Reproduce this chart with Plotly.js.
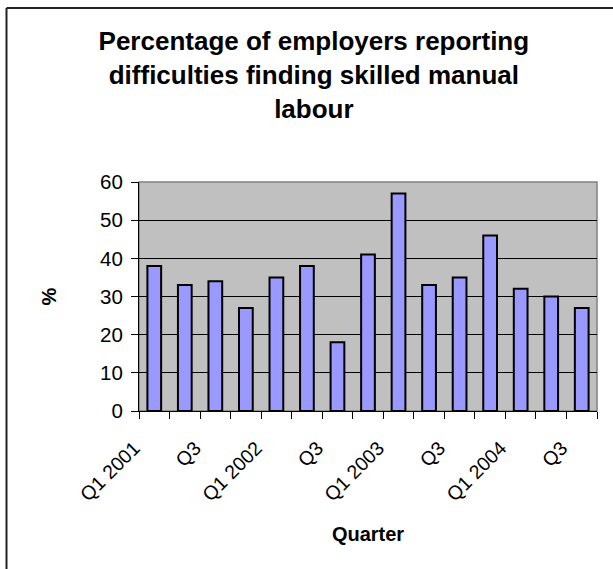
<!DOCTYPE html>
<html>
<head>
<meta charset="utf-8">
<script src="https://cdn.plot.ly/plotly-3.0.1.min.js"></script>
<style>html,body{margin:0;padding:0;background:#fff;}#chart{width:613px;height:569px;}</style>
</head>
<body>
<div id="chart"></div>
<script>
var categories = ["Q1 2001","Q2 2001","Q3 2001","Q4 2001","Q1 2002","Q2 2002","Q3 2002","Q4 2002","Q1 2003","Q2 2003","Q3 2003","Q4 2003","Q1 2004","Q2 2004","Q3 2004"];
var tickLabels = ["Q1 2001","","Q3","","Q1 2002","","Q3","","Q1 2003","","Q3","","Q1 2004","","Q3"];
var values = [38,33,34,27,35,38,18,41,57,33,35,46,32,30,27];
var yTicks = [0,10,20,30,40,50,60];

var W = 613, H = 569;
var L = 139, R = 16, T = 182, B = 158;
var pw = W - L - R, ph = H - T - B;
function px2x(p){ return (p - L) / pw; }
function py2y(p){ return (H - B - p) / ph; }

var font = "Liberation Sans, Arial, sans-serif";

var trace = {
  type: 'bar',
  x: categories,
  y: values,
  width: 0.45,
  marker: {color: '#9999ff', line: {color: '#000000', width: 2}},
  hoverinfo: 'x+y'
};

var layout = {
  width: W, height: H,
  margin: {l: L, r: R, t: T, b: B, pad: 0},
  paper_bgcolor: '#ffffff',
  plot_bgcolor: '#c0c0c0',
  font: {family: font, color: '#000', size: 17},
  showlegend: false,
  title: {
    text: 'Percentage of employers reporting<br>difficulties finding skilled manual<br>labour',
    font: {family: font, size: 26, color: '#000', weight: 'bold'},
    x: 0.512, xref: 'container', xanchor: 'center',
    y: 1 - 50/H, yref: 'container', yanchor: 'top'
  },
  xaxis: {
    type: 'category',
    range: [-0.5, 14.5],
    tickmode: 'array',
    tickvals: categories,
    ticktext: tickLabels,
    tickangle: -45,
    tickson: 'boundaries',
    ticks: 'outside', ticklen: 7, tickwidth: 1, tickcolor: '#000',
    ticklabelstandoff: 17,
    ticklabelshift: -20,
    showline: true, linecolor: '#000', linewidth: 1,
    showgrid: false, zeroline: false,
    tickfont: {family: font, size: 19.5, color: '#000'},
    title: {text: 'Quarter', font: {family: font, size: 20, color: '#000', weight: 'bold'}, standoff: 22},
    fixedrange: true
  },
  yaxis: {
    range: [0, 60],
    tickmode: 'array',
    tickvals: yTicks,
    ticks: 'outside', ticklen: 7, tickwidth: 1, tickcolor: '#000',
    showline: true, linecolor: '#000', linewidth: 1,
    showgrid: true, gridcolor: '#000', gridwidth: 1,
    zeroline: false,
    tickfont: {family: font, size: 20.5, color: '#000'},
    ticklabelstandoff: 4,
    title: {text: '%', font: {family: font, size: 20, color: '#000', weight: 'bold'}, standoff: 38},
    fixedrange: true
  },
  shapes: [
    {type: 'rect', xref: 'paper', yref: 'paper', x0: 0, x1: 1, y0: 0, y1: 1,
     line: {color: '#808080', width: 1.5}, layer: 'below'},
    {type: 'line', xref: 'paper', yref: 'paper',
     x0: px2x(6.5), x1: px2x(630), y0: py2y(8), y1: py2y(8),
     line: {color: '#222', width: 2}, layer: 'above'},
    {type: 'line', xref: 'paper', yref: 'paper',
     x0: px2x(6.5), x1: px2x(6.5), y0: py2y(8), y1: py2y(600),
     line: {color: '#222', width: 2}, layer: 'above'}
  ]
};

Plotly.newPlot('chart', [trace], layout, {staticPlot: true, displayModeBar: false});
</script>
</body>
</html>
